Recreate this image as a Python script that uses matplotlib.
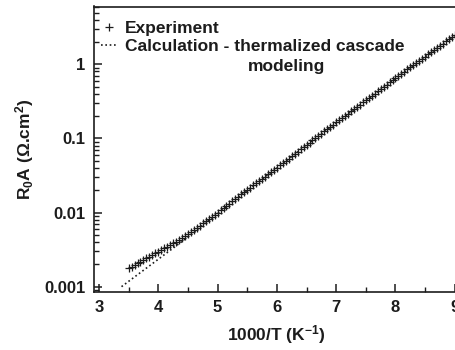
import numpy as np
import matplotlib
matplotlib.use("Agg")
import matplotlib.pyplot as plt

plt.rcParams["font.family"] = ["Liberation Sans", "DejaVu Sans"]
plt.rcParams["font.weight"] = "bold"
plt.rcParams["axes.labelweight"] = "bold"
plt.rcParams["mathtext.fontset"] = "custom"
plt.rcParams["mathtext.rm"] = "Liberation Sans:bold"
plt.rcParams["mathtext.bf"] = "Liberation Sans:bold"
plt.rcParams["mathtext.default"] = "bf"

# measured R0A, stored as log10(ohm.cm2), sampled every 0.05 in 1000/T
exp_x = np.round(np.arange(3.50, 9.001, 0.05), 2)
exp_log = [
    -2.750, -2.728, -2.706, -2.684, -2.662, -2.640, -2.618, -2.596, -2.574, -2.552,
    -2.530, -2.508, -2.485, -2.462, -2.439, -2.416, -2.393, -2.368, -2.343, -2.317,
    -2.290, -2.262, -2.233, -2.204, -2.175, -2.146, -2.117, -2.088, -2.059, -2.030,
    -2.000, -1.970, -1.939, -1.909, -1.878, -1.848, -1.817, -1.787, -1.756, -1.726,
    -1.695, -1.665, -1.635, -1.605, -1.575, -1.545, -1.515, -1.485, -1.455, -1.425,
    -1.395, -1.364, -1.333, -1.302, -1.271, -1.240, -1.209, -1.178, -1.147, -1.116,
    -1.085, -1.055, -1.025, -0.995, -0.965, -0.935, -0.905, -0.875, -0.845, -0.815,
    -0.785, -0.755, -0.725, -0.695, -0.665, -0.635, -0.605, -0.575, -0.545, -0.515,
    -0.485, -0.455, -0.425, -0.395, -0.365, -0.335, -0.305, -0.275, -0.245, -0.215,
    -0.185, -0.156, -0.127, -0.098, -0.069, -0.040, -0.011, 0.018, 0.047, 0.076,
    0.105, 0.134, 0.163, 0.192, 0.221, 0.250, 0.279, 0.308, 0.337, 0.366,
    0.395,
]

# thermalized cascade model
calc_x = [3.38, 4.0, 4.5, 5.0, 5.5, 6.0, 6.5, 7.0, 7.5, 8.0, 8.5, 9.0]
calc_log = [-3.00, -2.63, -2.33, -2.01, -1.70, -1.40, -1.09, -0.79, -0.49, -0.19, 0.10, 0.39]

ink = "#1c1c1c"

fig = plt.figure(figsize=(4.56, 3.5), dpi=100)
ax = fig.add_axes([94 / 456, 58.3 / 350, 364 / 456, 285.2 / 350])

ax.plot(exp_x, 10 ** np.array(exp_log), linestyle="none", marker="+",
        markersize=6, markeredgewidth=0.9, color=ink, label="Experiment")
ax.plot(calc_x, 10 ** np.array(calc_log), linestyle=(0, (1, 1.6)), linewidth=1.2,
        color=ink, label="Calculation - thermalized cascade")

ax.set_yscale("log")
ax.set_xlim(2.916, 9.054)
ax.set_ylim(10 ** -3.068, 10 ** 0.78)
ax.set_xticks([3, 4, 5, 6, 7, 8, 9])
ax.set_xticks(np.arange(3.5, 9.0, 1.0), minor=True)
ax.set_yticks([0.001, 0.01, 0.1, 1])
ax.set_yticklabels(["0.001", "0.01", "0.1", "1"])

ax.tick_params(which="both", direction="in", colors=ink, labelsize=12,
               top=False, right=False)
ax.tick_params(which="major", length=6, width=1.1, pad=6)
ax.tick_params(which="minor", length=3.5, width=1.0)
for s in ax.spines.values():
    s.set_linewidth(1.2)
    s.set_color(ink)

ax.set_xlabel("1000/T (K$^{-1}$)", fontsize=12.5, color=ink, labelpad=6)
ax.set_ylabel("R$_0$A ($\\Omega$.cm$^2$)", fontsize=12.5, color=ink, labelpad=6)

leg = ax.legend(loc="upper left", bbox_to_anchor=(-0.01, 0.985), frameon=False,
                fontsize=12.5, handlelength=1.0, handletextpad=0.4,
                labelspacing=0.15, borderaxespad=0.2)
for t in leg.get_texts():
    t.set_color(ink)
# second line of the model label
ax.text(0.423, 0.788, "modeling", transform=ax.transAxes, fontsize=12.5,
        color=ink, ha="left", va="center")

fig.savefig("out.png", dpi=100)
